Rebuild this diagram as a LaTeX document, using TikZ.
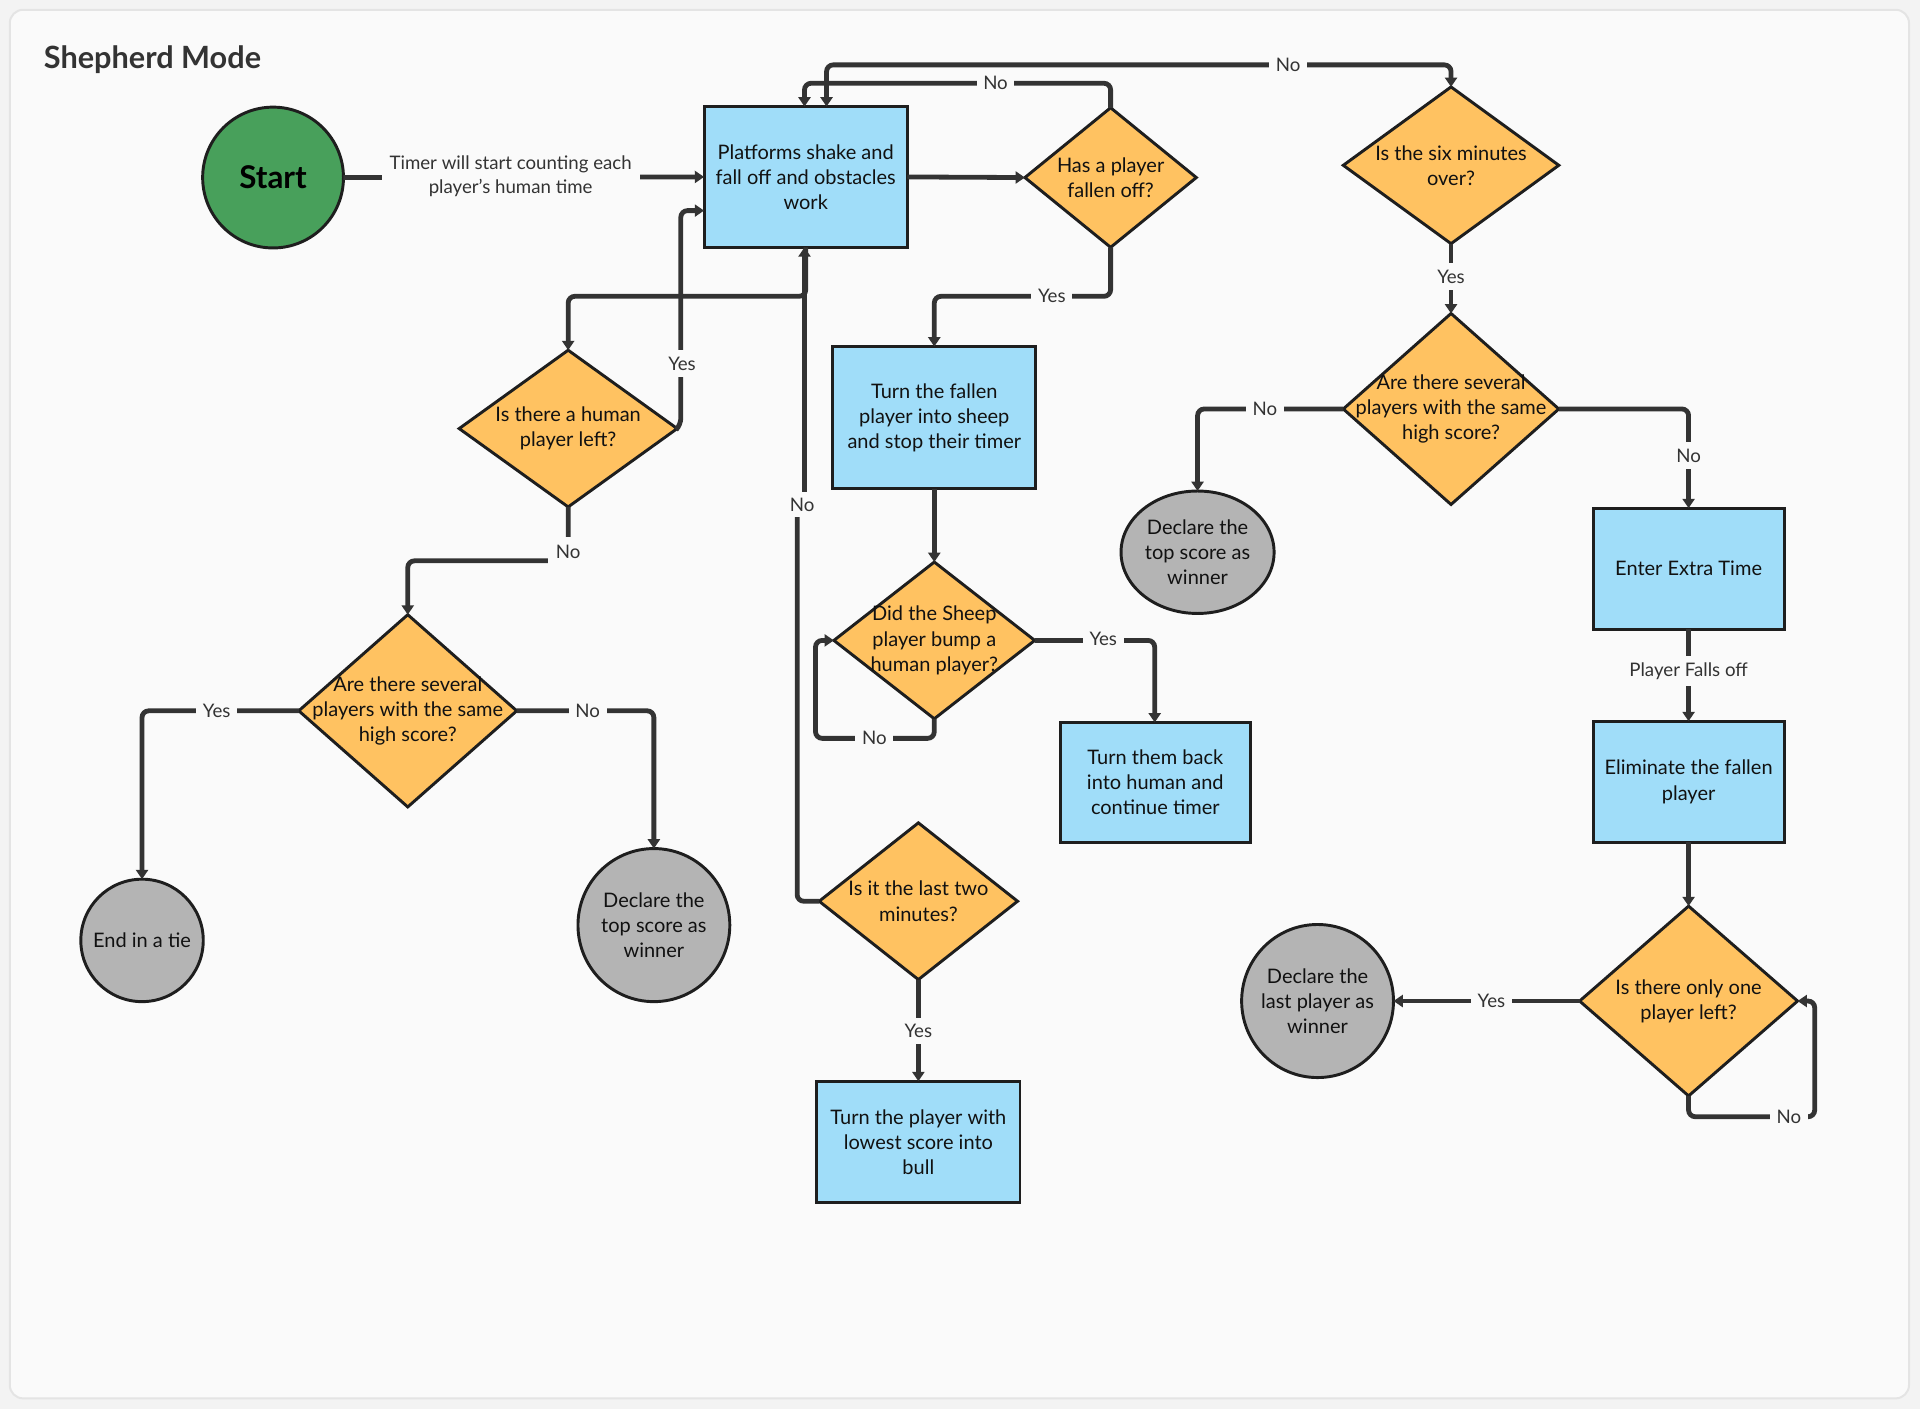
\documentclass[tikz,border=0pt]{standalone}
\usepackage{fontspec}
\setmainfont{Lato}
\usetikzlibrary{shapes.geometric,arrows.meta}
\definecolor{outerc}{HTML}{F3F3F3}
\definecolor{bgc}{HTML}{FAFAFA}
\definecolor{framec}{HTML}{E4E4E4}
\definecolor{bluef}{HTML}{A0DDF9}
\definecolor{orangef}{HTML}{FFC261}
\definecolor{grayf}{HTML}{B4B4B4}
\definecolor{greenf}{HTML}{48A05B}
\definecolor{linec}{HTML}{333333}
\definecolor{borderc}{HTML}{1E1E1E}
\definecolor{textc}{HTML}{111111}
\newlength\unitS
\setlength\unitS{0.9184pt}
\begin{document}
\begin{tikzpicture}[x=0.9184pt,y=-0.9184pt,
  >={Triangle[length=7pt,width=9pt]},
  conn/.style={draw=linec,line width=3.6pt,rounded corners=5pt},
  lbl/.style={fill=bgc,text=linec,inner xsep=5pt,inner ysep=1pt,align=center,font=\fontsize{14}{18.4}\selectfont},
  shp/.style={draw=borderc,line width=2.2pt,inner sep=0pt,outer sep=0pt},
  txt/.style={text=textc,align=center,font=\fontsize{15}{18.8}\selectfont},
  procbox/.style={shp,txt,rectangle,fill=bluef},
  decision/.style={shp,diamond,fill=orangef},
  endcirc/.style={shp,ellipse,fill=grayf},
  intext/.style={txt,inner sep=0pt}
]
\useasboundingbox (0,0) rectangle (1568,1151);
\fill[outerc] (0,0) rectangle (1568,1151);
\draw[framec,line width=1.5pt,fill=bgc,rounded corners=10pt] (8,8) rectangle (1559,1142);

% title
\node[anchor=west,text=linec,font=\fontsize{23}{26}\selectfont\bfseries] (title) at (32,49) {Shepherd Mode};

% nodes
\node[shp,circle,fill=greenf,minimum size=115\unitS,font=\fontsize{23.5}{26}\selectfont\bfseries,text=black] (start) at (223,145) {Start};
\node[procbox,minimum width=166\unitS,minimum height=115\unitS] (plat) at (658,144.5) {Platforms shake and\\fall off and obstacles\\work};
\node[decision,minimum width=140\unitS,minimum height=114\unitS,label={[intext]center:{Has a player\\fallen off?}}] (fallen) at (907,145) {};
\node[decision,minimum width=176\unitS,minimum height=128\unitS,label={[intext]center:{Is the six minutes\\over?}}] (six) at (1185,135) {};
\node[procbox,minimum width=166\unitS,minimum height=116\unitS] (sheep) at (763,341) {Turn the fallen\\player into sheep\\and stop their timer};
\node[decision,minimum width=164\unitS,minimum height=128\unitS,label={[intext]center:{Did the Sheep\\player bump a\\human player?}}] (bump) at (763,523) {};
\node[procbox,minimum width=155\unitS,minimum height=98\unitS] (back) at (943.5,639) {Turn them back\\into human and\\continue timer};
\node[decision,minimum width=178\unitS,minimum height=128\unitS,label={[intext]center:{Is there a human\\player left?}}] (human) at (464,350) {};
\node[decision,minimum width=178\unitS,minimum height=157\unitS,label={[intext]center:{Are there several\\players with the same\\high score?}}] (tieq) at (333,580.5) {};
\node[endcirc,minimum width=100\unitS,minimum height=100\unitS,label={[intext]center:{End in a tie}}] (tie) at (116,768) {};
\node[endcirc,minimum width=124\unitS,minimum height=125\unitS,label={[intext]center:{Declare the\\top score as\\winner}}] (declL) at (534,755.5) {};
\node[decision,minimum width=162\unitS,minimum height=128\unitS,label={[intext]center:{Is it the last two\\minutes?}}] (last2) at (750,736) {};
\node[procbox,minimum width=166\unitS,minimum height=99\unitS] (bull) at (750,932.5) {Turn the player with\\lowest score into\\bull};
\node[decision,minimum width=176\unitS,minimum height=156\unitS,label={[intext]center:{Are there several\\players with the same\\high score?}}] (tieqR) at (1185,334) {};
\node[endcirc,minimum width=125\unitS,minimum height=100\unitS,label={[intext]center:{Declare the\\top score as\\winner}}] (declR) at (978,451) {};
\node[procbox,minimum width=156\unitS,minimum height=99\unitS] (extra) at (1379,464.5) {Enter Extra Time};
\node[procbox,minimum width=156\unitS,minimum height=99\unitS] (elim) at (1379,638.5) {Eliminate the fallen\\player};
\node[decision,minimum width=178\unitS,minimum height=155\unitS,label={[intext]center:{Is there only one\\player left?}}] (only) at (1379,817.5) {};
\node[endcirc,minimum width=124\unitS,minimum height=125\unitS,label={[intext]center:{Declare the\\last player as\\winner}}] (declLast) at (1076,817.5) {};

% connectors
\draw[conn,->] (start.east) -- (plat.west);
\draw[conn,->] (plat.east) -- (fallen.west);
\draw[conn,->] (fallen.north) -- (907,68) -- (657,68) -- (plat.north -| 657,0);
\draw[conn,<->] (plat.north -| 675,0) -- (675,53) -- (1185,53) -- (six.north);
\draw[conn,->] (fallen.south) -- (907,242) -- (763,242) -- (sheep.north);
\draw[conn,->] (sheep.south) -- (bump.north);
\draw[conn,->] (bump.south) -- (763,603) -- (666,603) -- (666,523) -- (bump.west);
\draw[conn,->] (bump.east) -- (943,523) -- (back.north -| 943,0);
\draw[conn,->] (plat.south) -- (658,242) -- (464,242) -- (human.north);
\draw[conn,->] (last2.west) -- (651,736) -- (651,412) -- (657,412) -- (plat.south -| 657,0);
\draw[conn,->] (human.east) -- (556,347) -- (556,172) -- (plat.west |- 0,172);
\draw[conn,->] (human.south) -- (464,458) -- (333,458) -- (tieq.north);
\draw[conn,->] (tieq.west) -- (116,580.5) -- (tie.north);
\draw[conn,->] (tieq.east) -- (534,580.5) -- (declL.north);
\draw[conn,->] (last2.south) -- (bull.north);
\draw[conn,->] (six.south) -- (tieqR.north);
\draw[conn,->] (tieqR.west) -- (978,334) -- (declR.north);
\draw[conn,->] (tieqR.east) -- (1379,334) -- (extra.north);
\draw[conn,->] (extra.south) -- (elim.north);
\draw[conn,->] (elim.south) -- (only.north);
\draw[conn,->] (only.west) -- (declLast.east);
\draw[conn,->] (only.south) -- (1379,912) -- (1482,912) -- (1482,817.5) -- (only.east);

% connector labels
\node[lbl,inner xsep=6pt] (ltimer) at (417,144) {Timer will start counting each\\player's human time};
\node[lbl] (lno1) at (813,68) {No};
\node[lbl] (lno2) at (1052,53) {No};
\node[lbl] (lyes1) at (859,242) {Yes};
\node[lbl] (lno3) at (714,603) {No};
\node[lbl] (lyes2) at (901,522) {Yes};
\node[lbl,inner xsep=3pt,inner ysep=4pt] (lno4) at (655,412) {No};
\node[lbl,inner xsep=2pt,inner ysep=5pt] (lyes3) at (557,297) {Yes};
\node[lbl,inner xsep=6pt,inner ysep=6pt] (lno5) at (464,451) {No};
\node[lbl] (lyes4) at (177,580.5) {Yes};
\node[lbl] (lno6) at (480,580.5) {No};
\node[lbl,inner ysep=5pt] (lyes5) at (750,842) {Yes};
\node[lbl,inner ysep=5pt] (lyes6) at (1185,226) {Yes};
\node[lbl] (lno7) at (1033,334) {No};
\node[lbl,inner ysep=5pt] (lno8) at (1379,372) {No};
\node[lbl,inner ysep=5pt] (lfalls) at (1379,548) {Player Falls off};
\node[lbl] (lyes7) at (1218,817.5) {Yes};
\node[lbl] (lno9) at (1461,912) {No};
\end{tikzpicture}
\end{document}
